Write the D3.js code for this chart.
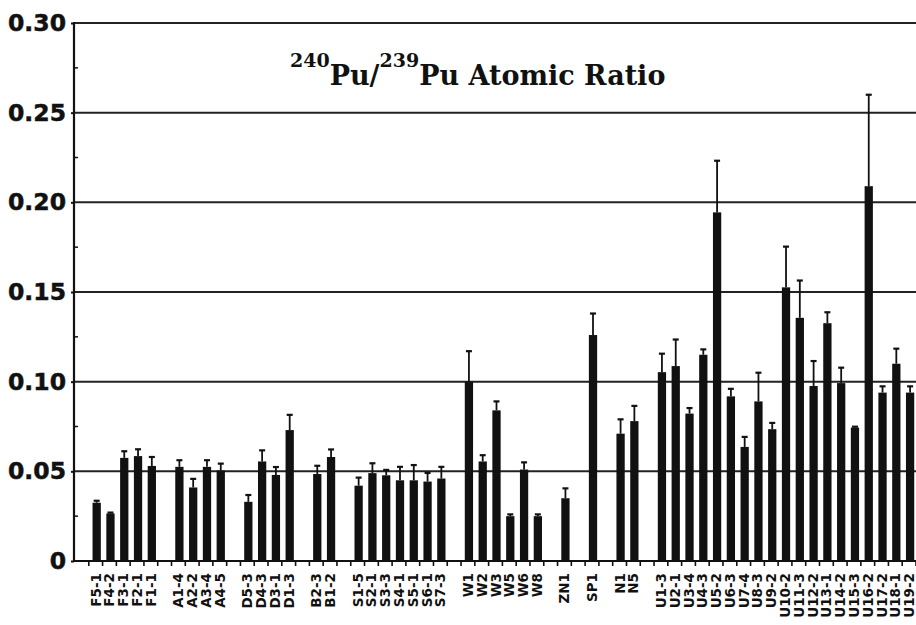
<!DOCTYPE html>
<html lang="en">
    <head>
        <title>240Pu/239Pu Atomic Ratio</title>
        <script src="https://d3js.org/d3.v7.min.js"></script>
        <style>
            body { margin: 0; background: #fff; }
        </style>
    </head>
    <body>
    <div id="mainDiv"></div>

        <script type="text/javascript">
            // sample slots, "" = empty slot between groups
            const labels = ["", "F5-1", "F4-2", "F3-1", "F2-1", "F1-1", "",
                "A1-4", "A2-2", "A3-4", "A4-5", "",
                "D5-3", "D4-3", "D3-1", "D1-3", "",
                "B2-3", "B1-2", "",
                "S1-5", "S2-1", "S3-3", "S4-1", "S5-1", "S6-1", "S7-3", "",
                "W1", "W2", "W3", "W5", "W6", "W8", "",
                "ZN1", "", "SP1", "", "N1", "N5", "",
                "U1-3", "U2-1", "U3-4", "U4-3", "U5-2", "U6-3", "U7-4", "U8-3", "U9-2", "U10-2",
                "U11-3", "U12-2", "U13-1", "U14-2", "U15-3", "U16-2", "U17-2", "U18-1", "U19-2"]

            // ratio for each non-empty label, in order
            const ratios = [0.0325, 0.0265, 0.0575, 0.0585, 0.053,
                0.0525, 0.041, 0.0525, 0.0505,
                0.033, 0.0555, 0.048, 0.073,
                0.0485, 0.058,
                0.042, 0.049, 0.0478, 0.045, 0.045, 0.0443, 0.046,
                0.100, 0.0555, 0.084, 0.025, 0.051, 0.025,
                0.035, 0.126, 0.071, 0.078,
                0.1053, 0.1087, 0.0822, 0.115, 0.1944, 0.0918, 0.0636, 0.089, 0.0735, 0.1526,
                0.1356, 0.0976, 0.1326, 0.0992, 0.0744, 0.209, 0.0939, 0.110, 0.0939]

            const errors = [0.0011, 0.0005, 0.0037, 0.0038, 0.005,
                0.0037, 0.0048, 0.0037, 0.0038,
                0.0038, 0.0062, 0.0044, 0.0085,
                0.0046, 0.0042,
                0.0045, 0.0055, 0.003, 0.0075, 0.0085, 0.0048, 0.0065,
                0.017, 0.0035, 0.005, 0.001, 0.004, 0.001,
                0.0055, 0.012, 0.008, 0.0085,
                0.0103, 0.0148, 0.0031, 0.003, 0.0288, 0.0042, 0.0056, 0.016, 0.0035, 0.0227,
                0.0208, 0.0139, 0.0061, 0.0086, 0.0005, 0.051, 0.0035, 0.0084, 0.0035]

            const yTicks = [0, 0.05, 0.10, 0.15, 0.20, 0.25, 0.30]
            const yTickLabels = ['0', '0.05', '0.10', '0.15', '0.20', '0.25', '0.30']
            const yMinorTicks = [0.025, 0.075, 0.125, 0.175, 0.225, 0.275]

            const width = 916
            const height = 625

            const margins = { top: 23, bottom: 64, left: 74, right: 0 }

            const svg = d3.select('#mainDiv').append('svg')
                .attr('width', width)
                .attr('height', height)
                .style('font-family', 'DejaVu Sans, sans-serif')

            const ink = '#111'

            const xScale = d3.scaleBand()
                .domain(d3.range(labels.length))
                .range([margins.left + 1, width])

            const yScale = d3.scaleLinear()
                .domain([0, 0.30])
                .range([height - margins.bottom, margins.top])

            // pair the values with the non-empty slots
            let k = 0
            const dataset = []
            labels.forEach((name, i) => {
                if (name !== '') {
                    dataset.push({ slot: i, name: name, value: ratios[k], err: errors[k] })
                    k++
                }
            })

            // horizontal grid lines
            svg.append('g')
                .selectAll('line')
                .data(yTicks.slice(1))
                .join('line')
                .attr('x1', margins.left)
                .attr('x2', width)
                .attr('y1', d => yScale(d))
                .attr('y2', d => yScale(d))
                .attr('stroke', '#222')
                .attr('stroke-width', 2)

            // y axis
            const yAxis = d3.axisLeft(yScale)
                .tickValues(yTicks)
                .tickFormat((d, i) => yTickLabels[i])
                .tickSize(3)
                .tickPadding(5)

            const yAxisPlot = svg.append('g')
                .attr('transform', `translate(${margins.left},0)`)
                .call(yAxis)
            yAxisPlot.select('.domain').remove()
            yAxisPlot.selectAll('line').attr('stroke', ink).attr('stroke-width', 2)
            yAxisPlot.selectAll('text')
                .style('font-family', 'DejaVu Sans, sans-serif')
                .style('font-weight', 'bold')
                .style('font-size', '23.5px')
                .attr('fill', ink)
                .attr('stroke', ink)
                .attr('stroke-width', 0.5)

            svg.append('g')
                .selectAll('line')
                .data(yMinorTicks)
                .join('line')
                .attr('x1', margins.left)
                .attr('x2', margins.left + 4)
                .attr('y1', d => yScale(d))
                .attr('y2', d => yScale(d))
                .attr('stroke', ink)
                .attr('stroke-width', 1.5)

            svg.append('line')
                .attr('x1', margins.left).attr('x2', margins.left)
                .attr('y1', yScale(0.30) - 1).attr('y2', yScale(0) + 1)
                .attr('stroke', ink).attr('stroke-width', 2.2)

            // bottom axis with ticks between slots
            svg.append('line')
                .attr('x1', margins.left).attr('x2', width)
                .attr('y1', yScale(0)).attr('y2', yScale(0))
                .attr('stroke', ink).attr('stroke-width', 2.2)

            svg.append('g')
                .selectAll('line')
                .data(d3.range(1, labels.length + 1))
                .join('line')
                .attr('x1', d => xScale.range()[0] + d * xScale.step())
                .attr('x2', d => xScale.range()[0] + d * xScale.step())
                .attr('y1', yScale(0))
                .attr('y2', yScale(0) + 5)
                .attr('stroke', ink)
                .attr('stroke-width', 1.6)

            const barWidth = xScale.step() * 0.6
            const cx = d => xScale(d.slot) + xScale.bandwidth() / 2 + 1

            // bars
            svg.append('g')
                .selectAll('rect')
                .data(dataset)
                .join('rect')
                .attr('x', d => cx(d) - barWidth / 2)
                .attr('y', d => yScale(d.value))
                .attr('width', barWidth)
                .attr('height', d => yScale(0) - yScale(d.value))
                .attr('fill', ink)

            // error bars
            const errs = svg.append('g')
            errs.selectAll('line.stem')
                .data(dataset)
                .join('line')
                .attr('class', 'stem')
                .attr('x1', cx).attr('x2', cx)
                .attr('y1', d => yScale(d.value))
                .attr('y2', d => yScale(d.value + d.err))
                .attr('stroke', ink)
                .attr('stroke-width', 1.8)
            errs.selectAll('line.cap')
                .data(dataset)
                .join('line')
                .attr('class', 'cap')
                .attr('x1', d => cx(d) - 3).attr('x2', d => cx(d) + 3)
                .attr('y1', d => yScale(d.value + d.err))
                .attr('y2', d => yScale(d.value + d.err))
                .attr('stroke', ink)
                .attr('stroke-width', 2.2)

            // sample labels, rotated
            svg.append('g')
                .selectAll('text')
                .data(dataset)
                .join('text')
                .attr('transform', d => `translate(${cx(d) + 4},${yScale(0) + 12}) rotate(-90)`)
                .attr('text-anchor', 'end')
                .style('font-weight', 'bold')
                .style('font-size', '13.5px')
                .attr('fill', ink)
                .text(d => d.name)

            // title
            const title = svg.append('text')
                .attr('x', 290)
                .attr('y', 85)
                .style('font-family', 'DejaVu Serif, serif')
                .style('font-weight', 'bold')
                .attr('fill', ink)
            title.append('tspan').style('font-size', '19px').attr('dy', -18).text('240')
            title.append('tspan').style('font-size', '27px').attr('dy', 18).text('Pu/')
            title.append('tspan').style('font-size', '19px').attr('dy', -18).text('239')
            title.append('tspan').style('font-size', '27px').attr('dy', 18).text('Pu Atomic Ratio')
        </script>
    </body>
</html>
